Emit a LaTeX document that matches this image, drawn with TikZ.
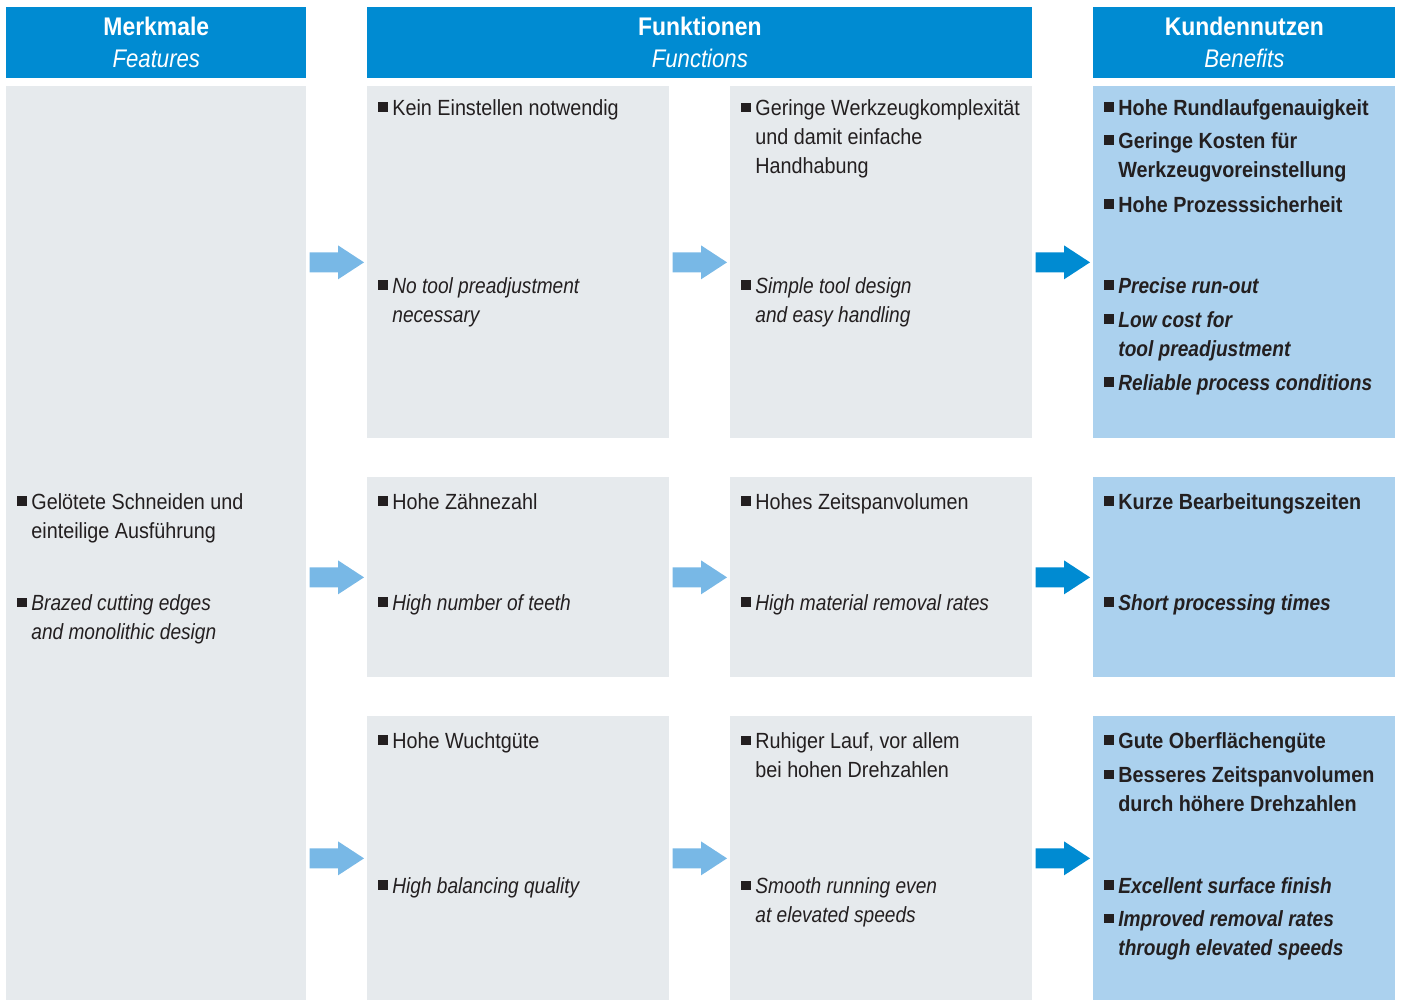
\documentclass[tikz,border=0pt]{standalone}
\usepackage{fontspec}
\setmainfont{Liberation Sans}[FakeStretch=0.9,ItalicFeatures={FakeStretch=0.87},BoldItalicFeatures={FakeStretch=0.87}]
\usetikzlibrary{calc}
\definecolor{kopfblau}{RGB}{0,139,210}
\definecolor{feldgrau}{RGB}{230,234,237}
\definecolor{feldblau}{RGB}{171,209,238}
\definecolor{pfeilhell}{RGB}{120,184,230}
\definecolor{schrift}{RGB}{35,31,32}
\tikzstyle{kopf}=[fill=kopfblau,text=white,align=center,inner sep=0pt,anchor=north west,font=\fontsize{14.5}{18.2}\selectfont]
\tikzstyle{feld}=[fill=feldgrau,inner sep=0pt,anchor=north west]
\tikzstyle{nutzen}=[fill=feldblau,inner sep=0pt,anchor=north west]
\tikzstyle{txt}=[anchor=base west,inner sep=0pt,align=left,text=schrift]
\tikzstyle{de}=[txt,font=\fontsize{12.5}{16.5}\selectfont]
\tikzstyle{en}=[txt,font=\fontsize{12.5}{16.5}\selectfont\itshape]
\tikzstyle{deb}=[txt,font=\fontsize{12.5}{16.5}\selectfont\bfseries]
\tikzstyle{enb}=[txt,font=\fontsize{12.5}{16.5}\selectfont\bfseries\itshape]
\newcommand\bul{\makebox[0.64em][l]{\rule[0.12em]{0.45em}{0.45em}}}
\newcommand\ein{\hspace*{0.64em}}
\begin{document}
\begin{tikzpicture}[x=0.02cm,y=-0.02cm]
    \useasboundingbox (0,0) rectangle (1403,1001);
    % Kopfzeile
    \node[kopf,minimum width=300*0.02cm,minimum height=71*0.02cm] (merk) at (6,7) {\textbf{Merkmale}\\\textit{Features}};
    \node[kopf,minimum width=665*0.02cm,minimum height=71*0.02cm] (funk) at (367,7) {\textbf{Funktionen}\\\textit{Functions}};
    \node[kopf,minimum width=302*0.02cm,minimum height=71*0.02cm] (nutz) at (1093,7) {\textbf{Kundennutzen}\\\textit{Benefits}};
    % Felder
    \foreach \name/\x/\y/\w/\h/\sty in {feat/6/86/300/914/feld, f11/367/86/302/352/feld, f12/730/86/302/352/feld, n1/1093/86/302/352/nutzen, f21/367/477/302/200/feld, f22/730/477/302/200/feld, n2/1093/477/302/200/nutzen, f31/367/716/302/284/feld, f32/730/716/302/284/feld, n3/1093/716/302/284/nutzen}
        \node[\sty,minimum width=\w*0.02cm,minimum height=\h*0.02cm] (\name) at (\x,\y) {};
    % Pfeile
    \foreach \source/\dest/\farbe in {feat/f11/pfeilhell, feat/f21/pfeilhell, feat/f31/pfeilhell, f11/f12/pfeilhell, f21/f22/pfeilhell, f31/f32/pfeilhell, f12/n1/kopfblau, f22/n2/kopfblau, f32/n3/kopfblau}
        \fill[\farbe] ($(\source.east |- \dest.west)+(3,-10)$) -- ($(\dest.west)+(-29,-10)$) -- ($(\dest.west)+(-29,-17)$) -- ($(\dest.west)+(-3,0)$) -- ($(\dest.west)+(-29,17)$) -- ($(\dest.west)+(-29,10)$) -- ($(\source.east |- \dest.west)+(3,10)$) -- cycle;
    % Texte (y = Grundlinie der letzten Zeile)
    \foreach \x/\y/\sty/\txt [count=\i] in {
        17/538/de/{Gelötete Schneiden und\\\ein einteilige Ausführung},
        17/639/en/{Brazed cutting edges\\\ein and monolithic design},
        378/115/de/{Kein Einstellen notwendig},
        378/322/en/{No tool preadjustment\\\ein necessary},
        378/509/de/{Hohe Zähnezahl},
        378/610/en/{High number of teeth},
        378/748/de/{Hohe Wuchtgüte},
        378/893/en/{High balancing quality},
        741/173/de/{Geringe Werkzeugkomplexität\\\ein und damit einfache\\\ein Handhabung},
        741/322/en/{Simple tool design\\\ein and easy handling},
        741/509/de/{Hohes Zeitspanvolumen},
        741/610/en/{High material removal rates},
        741/777/de/{Ruhiger Lauf, vor allem\\\ein bei hohen Drehzahlen},
        741/922/en/{Smooth running even\\\ein at elevated speeds},
        1104/115/deb/{Hohe Rundlaufgenauigkeit},
        1104/177/deb/{Geringe Kosten für\\\ein Werkzeugvoreinstellung},
        1104/212/deb/{Hohe Prozesssicherheit},
        1104/293/enb/{Precise run-out},
        1104/356/enb/{Low cost for\\\ein tool preadjustment},
        1104/390/enb/{Reliable process conditions},
        1104/509/deb/{Kurze Bearbeitungszeiten},
        1104/610/enb/{Short processing times},
        1104/748/deb/{Gute Oberflächengüte},
        1104/811/deb/{Besseres Zeitspanvolumen\\\ein durch höhere Drehzahlen},
        1104/893/enb/{Excellent surface finish},
        1104/955/enb/{Improved removal rates\\\ein through elevated speeds}}
        \node[\sty] (t\i) at (\x,\y) {\bul\txt};
\end{tikzpicture}
\end{document}
